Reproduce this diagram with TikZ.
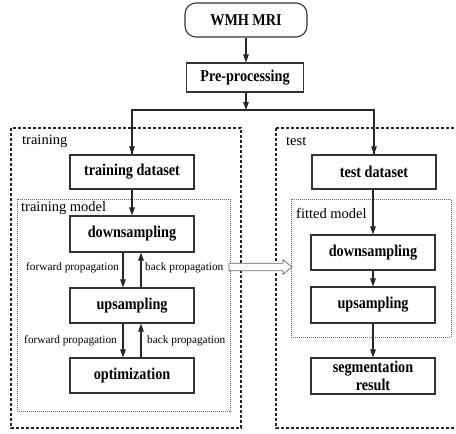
\documentclass[tikz,border=0pt]{standalone}
\usepackage{fontspec}
\setmainfont{Liberation Serif}
\newfontfamily\boxfont[FakeStretch=0.86]{Liberation Serif}
\usetikzlibrary{arrows.meta}
\begin{document}
\begin{tikzpicture}[x=1pt,y=-1pt,
  box/.style={draw=black!80, line width=1.1pt, fill=white, minimum width=124pt,
    inner sep=1pt, font=\boxfont\fontsize{16.5}{17}\selectfont\bfseries, align=center},
  arr/.style={line width=1.1pt, draw=black!85, -{Triangle[length=8pt,width=5.5pt]}},
  group/.style={draw=black!85, line width=2.2pt, dash pattern=on 3pt off 2pt},
  subgroup/.style={draw=black!60, line width=0.6pt, dash pattern=on 1pt off 1pt},
  grouplabel/.style={font=\fontsize{14.5}{16}\selectfont, anchor=west, inner sep=0pt},
  proplabel/.style={font=\fontsize{11.3}{13}\selectfont, inner sep=0pt}]
\useasboundingbox (0,0) rectangle (456,434);
\clip (0,0) rectangle (456,434);

% groups
\draw[group] (11,128) rectangle (241,428);
\draw[group] (276,128) rectangle (470,428);
\draw[subgroup] (17,199) rectangle (230,411);
\draw[subgroup] (291,199) rectangle (451,337);
\node[grouplabel] (ltrain) at (22,141) {training};
\node[grouplabel] (ltest) at (286,141) {test};
\node[grouplabel] (lmodel) at (21,208) {training model};
\node[grouplabel] (lfit) at (296,213) {fitted model};

% nodes
\node[box, rounded corners=11pt, minimum width=122pt, minimum height=34pt] (mri) at (246,20) {WMH MRI};
\node[box, minimum width=117pt, minimum height=29pt] (pre) at (245,77.5) {Pre-processing};
\node[box, minimum height=34pt] (trds) at (132,172) {training dataset};
\node[box, minimum height=36pt] (trdown) at (132,234) {downsampling};
\node[box, minimum height=35pt] (trup) at (132,305.5) {upsampling};
\node[box, minimum height=35pt] (tropt) at (132,375.5) {optimization};
\node[box, minimum height=34pt] (teds) at (374,172) {test dataset};
\node[box, minimum height=35pt] (tedown) at (373,252.5) {downsampling};
\node[box, minimum height=36pt] (teup) at (373,305) {upsampling};
\node[box, minimum height=36pt, font=\boxfont\fontsize{16.5}{17.5}\selectfont\bfseries] (seg) at (373,376) {segmentation\\result};

% main flow
\coordinate (split) at (246,110);
\draw[arr] (mri) -- (pre.north -| mri);
\draw[arr] (pre.south -| split) -- (split);
\draw[line width=1.1pt, draw=black!85] (split) -| (trds.north);
\draw[line width=1.1pt, draw=black!85] (split) -| (teds.north);
\draw[arr] (split -| trds) -- (trds.north);
\draw[arr] (split -| teds) -- (teds.north);
\draw[arr] (trds) -- (trdown);
\draw[arr] (teds.south -| tedown) -- (tedown);
\draw[arr] (tedown) -- (teup);
\draw[arr] (teup) -- (seg);

% forward / back propagation
\draw[arr] ([xshift=-9pt]trdown.south) -- ([xshift=-9pt]trup.north);
\draw[arr] ([xshift=9pt]trup.north) -- ([xshift=9pt]trdown.south);
\draw[arr] ([xshift=-9pt]trup.south) -- ([xshift=-9pt]tropt.north);
\draw[arr] ([xshift=9pt]tropt.north) -- ([xshift=9pt]trup.south);
\node[proplabel, anchor=east] (fp1) at (119,268) {forward propagation};
\node[proplabel, anchor=west] (bp1) at (145,268) {back propagation};
\node[proplabel, anchor=east] (fp2) at (117,341) {forward propagation};
\node[proplabel, anchor=west] (bp2) at (147,341) {back propagation};

% transfer of the trained model
\coordinate (tfrom) at (229,267);
\coordinate (tto) at (292,267);
\draw[draw=black!60, line width=0.7pt, fill=white, line join=miter]
  (tfrom) ++(0,-3.8) -- ++(54,0) -- ++(0,-3.5) -- (tto) -- ++(-9,7.3) -- ++(0,-3.5)
  -- ++(-54,0) -- cycle;
\end{tikzpicture}
\end{document}
